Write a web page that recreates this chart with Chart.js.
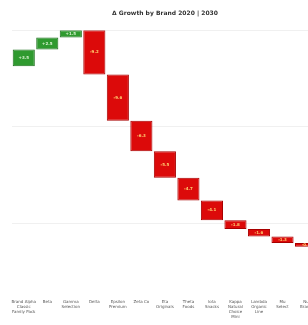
<!DOCTYPE html>
<html>
<head>
<meta charset="utf-8">
<script src="https://cdn.jsdelivr.net/npm/chart.js@4"></script>
<style>
  html, body { margin: 0; padding: 0; background: #fff; overflow: hidden; }
  #wrap { width: 318px; height: 325px; }
</style>
</head>
<body>
<div id="wrap"><canvas id="chartWaterfall"></canvas></div>
<script>
// Waterfall: growth contribution per brand
const brands = [
  ['Brand Alpha', 'Classic', 'Family Pack'], 'Beta', ['Gamma', 'Selection'], 'Delta', ['Epsilon', 'Premium'],
  'Zeta Co', ['Eta', 'Originals'], ['Theta', 'Foods'], ['Iota', 'Snacks'], ['Kappa', 'Natural', 'Choice', 'Mini'],
  ['Lambda', 'Organic', 'Line'], ['Mu', 'Select'], ['Nu', 'Brand']
];
const startValue = 92.5;
const deltas = [3.5, 2.5, 1.5, -9.2, -9.6, -6.3, -5.5, -4.7, -4.1, -1.8, -1.6, -1.3, -0.8];
const deltaLabels = ['+3.5', '+2.5', '+1.5', '-9.2', '-9.6', '-6.3', '-5.5', '-4.7', '-4.1', '-1.8', '-1.6', '-1.3', '-0.8'];
const yTicks = [60, 80, 100];

// floating bars [bas, haut] depuis les deltas cumulés
let cumul = startValue;
const ranges = deltas.map(d => { const a = cumul; cumul += d; return [Math.min(a, cumul), Math.max(a, cumul)]; });
const fill = deltas.map(d => d >= 0 ? '#2f9a2f' : '#dc0a0a');
const edge = deltas.map(d => d >= 0 ? '#1c6f1c' : '#a80000');

const valueLabels = {
  id: 'valueLabels',
  afterDatasetsDraw(chart) {
    const ctx = chart.ctx;
    const meta = chart.getDatasetMeta(0);
    ctx.save();
    ctx.font = 'bold 4px "DejaVu Sans"';
    ctx.textAlign = 'center';
    ctx.textBaseline = 'middle';
    meta.data.forEach((bar, i) => {
      ctx.fillStyle = deltas[i] >= 0 ? '#d9f2d0' : '#ffcf70';
      const y = (bar.y + bar.base) / 2;
      ctx.fillText(deltaLabels[i], bar.x, y);
    });
    ctx.restore();
  }
};

new Chart(document.getElementById('chartWaterfall'), {
  type: 'bar',
  data: { labels: brands, datasets: [{ data: ranges, backgroundColor: fill, borderColor: edge, borderWidth: 1, borderSkipped: false, categoryPercentage: 1, barPercentage: 0.94 }] },
  options: {
    responsive: true, maintainAspectRatio: false, animation: false,
    layout: { padding: { left: 12, right: 0, top: 2, bottom: 0 } },
    plugins: {
      legend: { display: false }, tooltip: { enabled: false },
      title: { display: true, text: 'Δ Growth by Brand 2020 | 2030', color: '#333', font: { family: 'DejaVu Sans', size: 6, weight: 'bold' }, padding: { top: 8, bottom: 13 } }
    },
    scales: {
      x: { grid: { display: false }, border: { display: false }, ticks: { color: '#555', font: { family: 'DejaVu Sans', size: 4 }, maxRotation: 0, autoSkip: false, padding: 6 } },
      y: { min: 47, max: 100, afterBuildTicks: axis => { axis.ticks = yTicks.map(v => ({ value: v })); }, grid: { color: '#f0f0f0', drawTicks: false }, border: { display: false }, ticks: { display: false } }
    }
  },
  plugins: [valueLabels]
});
</script>
</body>
</html>
